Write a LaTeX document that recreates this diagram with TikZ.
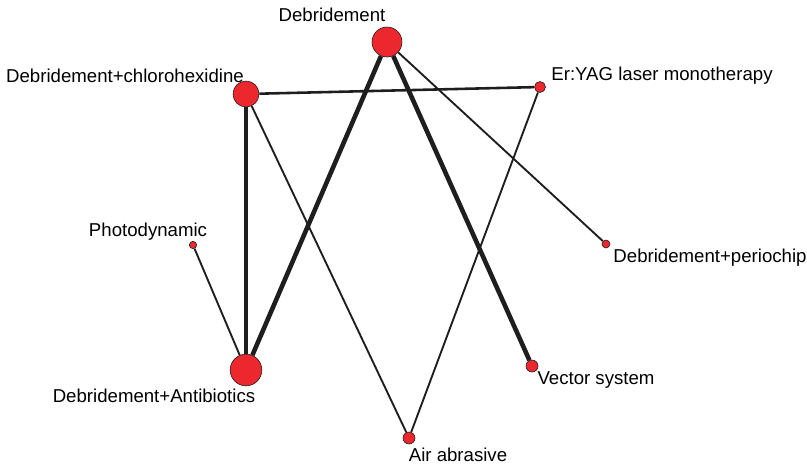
\documentclass[tikz,border=0pt]{standalone}
\usepackage{fontspec}
\setmainfont{Liberation Sans}
\usepackage{tikz}
\definecolor{nodered}{RGB}{236, 40, 46}
\definecolor{edgegray}{RGB}{30, 30, 30}
\tikzset{
  trt/.style={circle, draw=edgegray, line width=0.5pt, fill=nodered, inner sep=0pt},
  lbl/.style={font=\fontsize{15.9}{18}\selectfont, inner sep=0pt},
  thin edge/.style={draw=edgegray, line width=1.6pt},
  mid edge/.style={draw=edgegray, line width=2.2pt},
  thick edge/.style={draw=edgegray, line width=3.9pt}
}

\begin{document}
\begin{tikzpicture}[x=0.03cm, y=-0.03cm]
\useasboundingbox (0,0) rectangle (807,465);

\node[trt, minimum size=0.9cm] (debr) at (387,42) {};
\node[trt, minimum size=0.78cm] (chlor) at (246,94) {};
\node[trt, minimum size=0.33cm] (eryag) at (540,87) {};
\node[trt, minimum size=0.22cm] (photo) at (193,245) {};
\node[trt, minimum size=0.24cm] (perio) at (606,244) {};
\node[trt, minimum size=0.95cm] (antib) at (246,370) {};
\node[trt, minimum size=0.36cm] (vector) at (532,366) {};
\node[trt, minimum size=0.36cm] (air) at (409,438) {};

\node[lbl] (debrLabel) at (332,15) {Debridement};
\node[lbl] (chlorLabel) at (125,76) {Debridement+chlorohexidine};
\node[lbl] (eryagLabel) at (662,76) {Er:YAG laser monotherapy};
\node[lbl] (photoLabel) at (148,232) {Photodynamic};
\node[lbl] (perioLabel) at (710,258) {Debridement+periochip};
\node[lbl] (antibLabel) at (154,396) {Debridement+Antibiotics};
\node[lbl] (vectorLabel) at (596,380) {Vector system};
\node[lbl] (airLabel) at (458,455) {Air abrasive};

\draw[thick edge] (debr) -- (antib);
\draw[thick edge] (debr) -- (vector);
\draw[thin edge] (debr) -- (perio);
\draw[thick edge] (chlor) -- (antib);
\draw[mid edge] (chlor) -- (eryag);
\draw[thin edge] (chlor) -- (air);
\draw[thin edge] (eryag) -- (air);
\draw[thin edge] (photo) -- (antib);

\end{tikzpicture}
\end{document}
